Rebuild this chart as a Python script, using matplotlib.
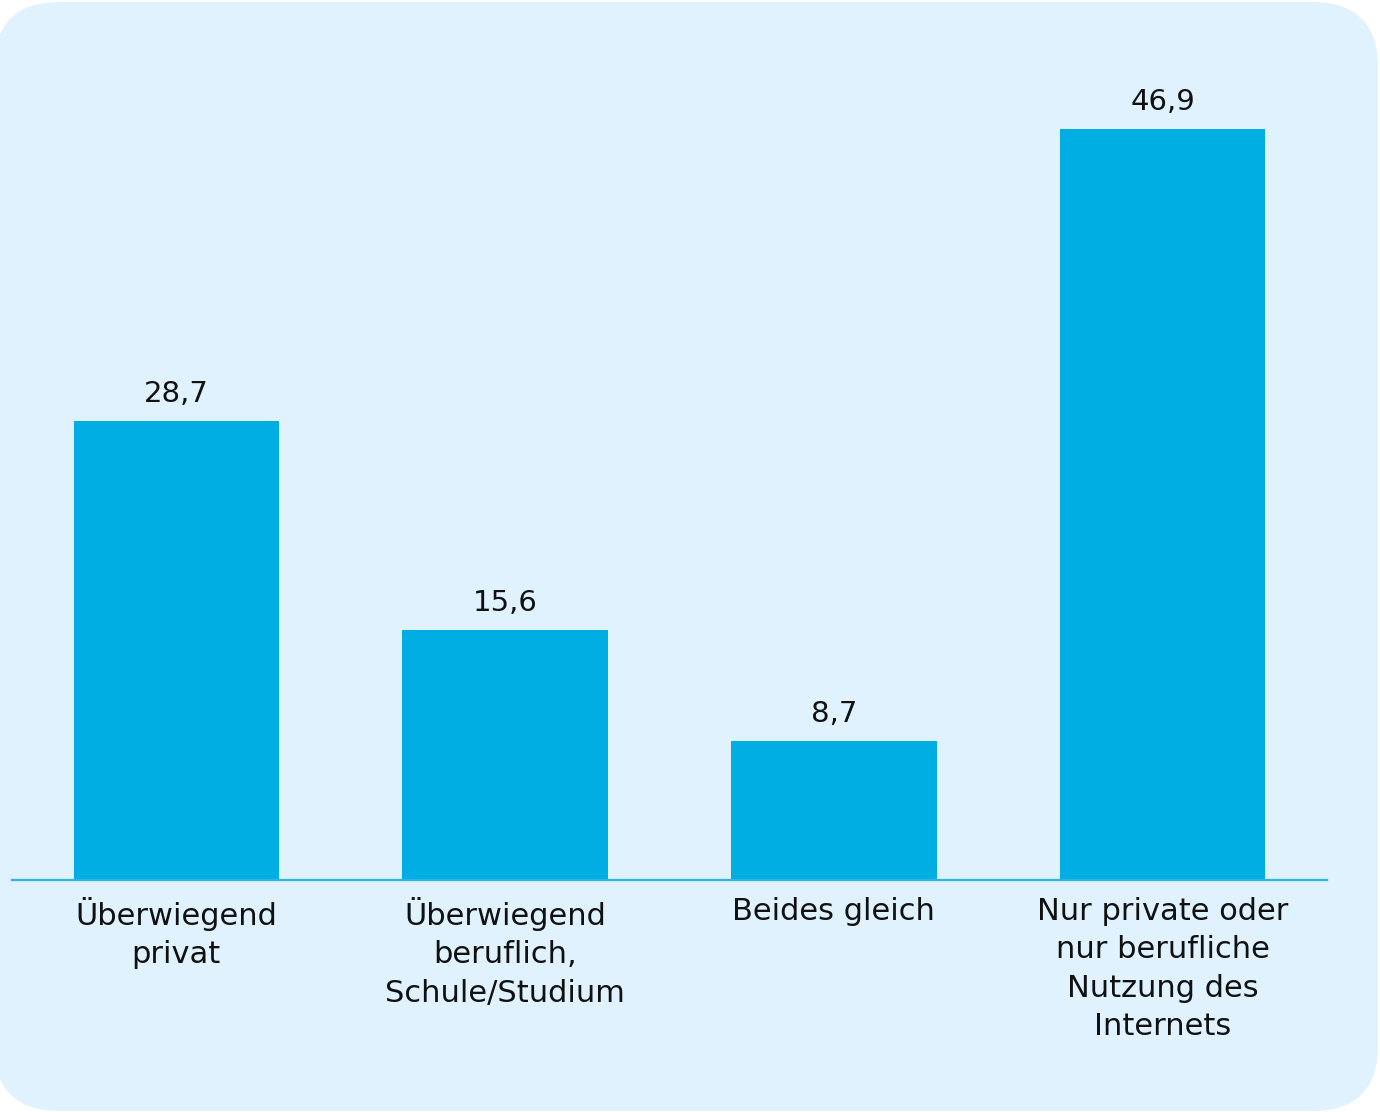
import matplotlib.pyplot as plt
from matplotlib.patches import FancyBboxPatch

categories = ["Überwiegend\nprivat",
              "Überwiegend\nberuflich,\nSchule/Studium",
              "Beides gleich",
              "Nur private oder\nnur berufliche\nNutzung des\nInternets"]
values = [28.7, 15.6, 8.7, 46.9]
value_labels = ["28,7", "15,6", "8,7", "46,9"]

W, H = 1380, 1112
fig = plt.figure(figsize=(W / 100, H / 100), dpi=100, facecolor="white")

# rounded light-blue panel behind everything
bg = fig.add_axes([0, 0, 1, 1])
bg.set_xlim(0, W)
bg.set_ylim(H, 0)
bg.axis("off")
bg.add_patch(FancyBboxPatch((-6, 2), W + 4, H - 3,
                            boxstyle="round,pad=0,rounding_size=66",
                            facecolor="#dff2fd", edgecolor="none"))

# chart area: baseline at y=880 px, x from 12 to 1327 px
left, right = 12 / W, 1327 / W
bottom = 1 - 880 / H
top = 1 - 79.5 / H
ax = fig.add_axes([left, bottom, right - left, top - bottom])
ax.patch.set_alpha(0)

x = range(len(values))
ax.bar(x, values, width=0.625, color="#00aee4", zorder=2)
ax.set_xlim(-0.5, 3.5)
ax.set_ylim(0, 50)

for i, (v, lab) in enumerate(zip(values, value_labels)):
    ax.text(i, v + 0.8, lab, ha="center", va="bottom",
            fontsize=21, color="#111111", family="DejaVu Sans")

for s in ["top", "right", "left"]:
    ax.spines[s].set_visible(False)
ax.spines["bottom"].set_color("#29b5e8")
ax.spines["bottom"].set_linewidth(1.6)
ax.set_yticks([])
ax.set_xticks(list(x))
ax.set_xticklabels(categories, fontsize=22, color="#111111",
                   family="DejaVu Sans", linespacing=1.415)
ax.tick_params(axis="x", length=0, pad=12)

fig.savefig("out.png", dpi=100, facecolor="white")
